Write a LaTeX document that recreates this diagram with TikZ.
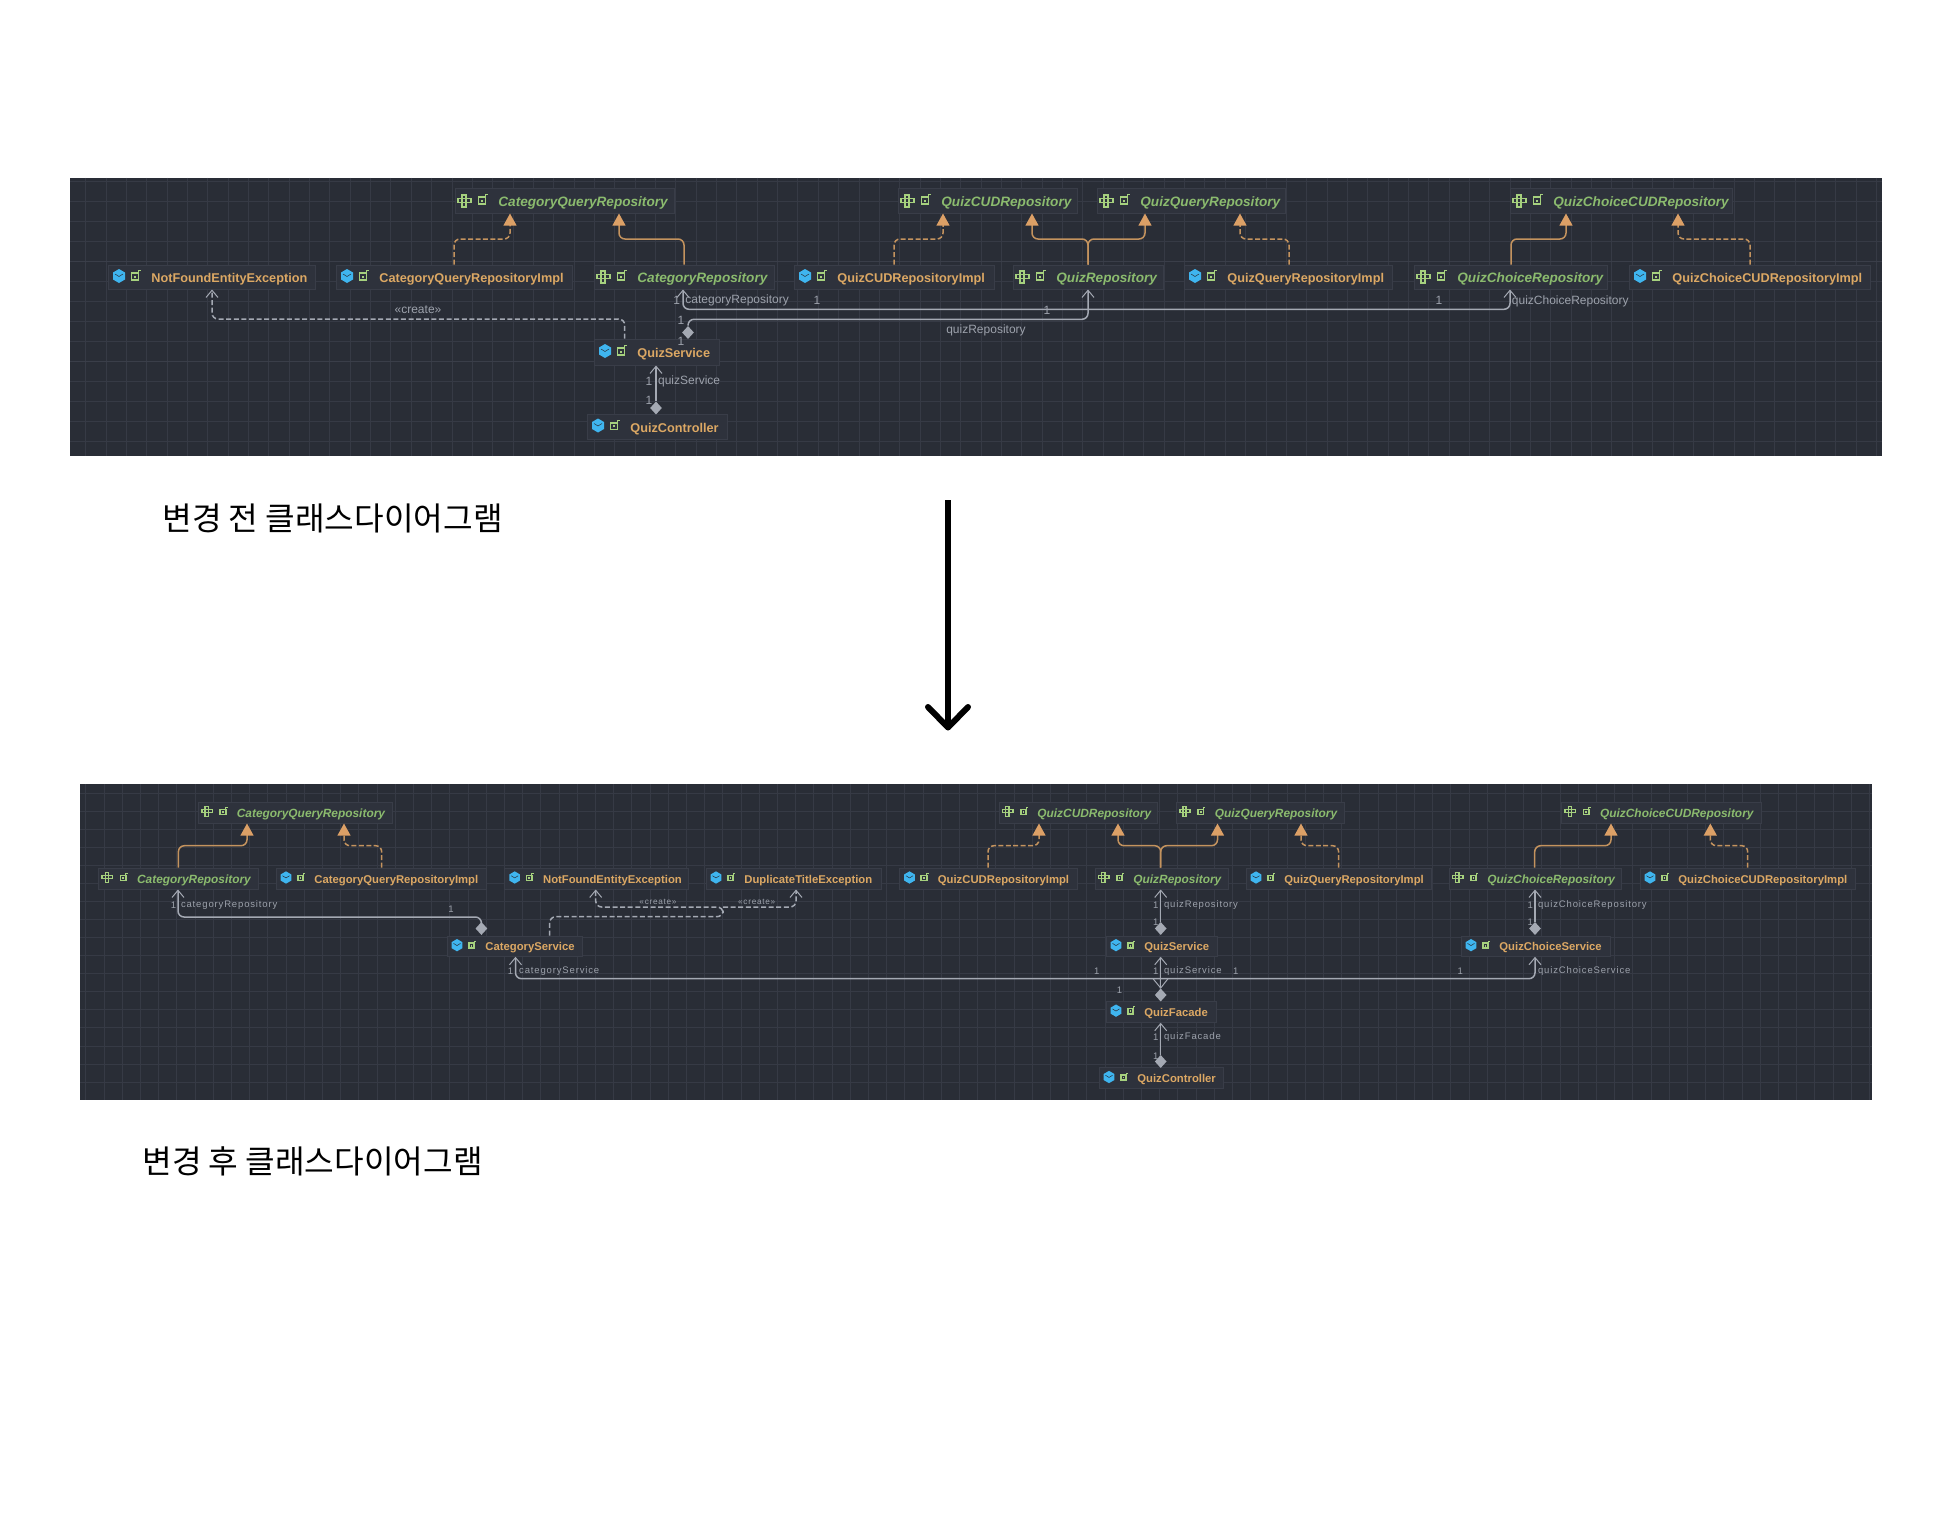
\documentclass[tikz,border=0pt]{standalone}
\usepackage{fontspec}
\usetikzlibrary{arrows.meta,shapes.geometric}
\newfontfamily\uifont{Liberation Sans}
\newfontfamily\uisp[LetterSpace=9]{Liberation Sans}
\newfontfamily\cjkfont{Noto Sans CJK KR}
\definecolor{panel}{HTML}{292D36}
\definecolor{gridc}{HTML}{363A45}
\definecolor{gridm}{HTML}{3A3E49}
\definecolor{boxf}{HTML}{2E323C}
\definecolor{boxl}{HTML}{393D48}
\definecolor{clsc}{HTML}{DCA864}
\definecolor{ifcc}{HTML}{8BBB6E}
\definecolor{tan}{HTML}{C4935E}
\definecolor{tanf}{HTML}{DCA066}
\definecolor{asc}{HTML}{A4A9B3}
\definecolor{lblc}{HTML}{9DA2AC}
\definecolor{iconb}{HTML}{3FB5EF}
\definecolor{icong}{HTML}{A6D17E}
\tikzset{
  x=0.5pt,y=-0.5pt,
  boxsty/.style={fill=boxf,draw=boxl,line width=0.5pt,inner sep=0pt,rectangle},
  ttc/.style={text=clsc,font=\uifont\bfseries\fontsize{6.35}{7}\selectfont,anchor=base west,inner sep=0pt,yshift=-0.5pt},
  tti/.style={text=ifcc,font=\uifont\bfseries\itshape\fontsize{6.8}{7}\selectfont,anchor=base west,inner sep=0pt,yshift=-0.5pt},
  btc/.style={text=clsc,font=\uifont\bfseries\fontsize{5.65}{7}\selectfont,anchor=base west,inner sep=0pt},
  bti/.style={text=ifcc,font=\uifont\bfseries\itshape\fontsize{5.95}{7}\selectfont,anchor=base west,inner sep=0pt},
  tlb/.style={text=lblc,font=\uifont\fontsize{6}{7}\selectfont,inner sep=0pt,yshift=-0.3pt},
  tlbw/.style={tlb,anchor=west},
  blb/.style={text=lblc,font=\uisp\fontsize{4.75}{6}\selectfont,inner sep=0pt,yshift=-0.4pt},
  blbw/.style={blb,anchor=west},
  blc/.style={blb,font=\uisp\fontsize{4.1}{6}\selectfont},
  dia/.style={diamond,fill=asc,inner sep=0pt,minimum width=6pt,minimum height=6.6pt},
  impl/.style={draw=tan,line width=0.75pt,rounded corners=3pt,-{Triangle[length=6pt,width=6.4pt,fill=tanf,color=tanf]}},
  impld/.style={impl,dash pattern=on 2.5pt off 1.2pt},
  assoc/.style={draw=asc,line width=0.75pt,rounded corners=3pt,-{Straight Barb[length=3.6pt,width=6pt,line width=0.5pt]}},
  assocb/.style={draw=asc,line width=0.75pt,rounded corners=3pt,{Straight Barb[length=3.6pt,width=6pt,line width=0.5pt]}-{Straight Barb[length=3.6pt,width=6pt,line width=0.5pt]}},
  crt/.style={assoc,dash pattern=on 2.5pt off 1.3pt},
  korean/.style={font=\cjkfont\fontsize{16.1}{18}\selectfont,text=black,anchor=west,inner sep=0pt},
  bigarrow/.style={draw=black,line width=3pt,line cap=round,line join=round}
}
\newcommand{\ubox}[8]{%
  \node[boxsty,minimum width={(#4-#2)*0.5pt},minimum height={(#5-#3)*0.5pt}] (#1) at ({(#2+#4)/2},{(#3+#5)/2}) {};
  \node[#6] (#1-t) at ({#2+#7},{(#3+#5)/2+4.5}) {#8};}
\newcommand{\icc}[3]{\begin{scope}[shift={({#1},{#2})},scale=#3]
  \fill[iconb] (0,-7)--(6,-3.5)--(6,3.5)--(0,7)--(-6,3.5)--(-6,-3.5)--cycle;
  \draw[panel,line width=0.25pt] (-4,-2)--(0,0.5)--(4,-2);
  \end{scope}}
\newcommand{\ici}[3]{\begin{scope}[shift={({#1},{#2})},scale=#3]
  \draw[icong,line width=0.75pt] (-7,-2.5) rectangle (6,1.5);
  \draw[icong,line width=0.75pt] (-3,-6) rectangle (1,6);
  \end{scope}}
\newcommand{\icl}[3]{\begin{scope}[shift={({#1},{#2})},scale=#3]
  \draw[icong,line width=0.85pt] (-3.6,-2.8) rectangle (3.6,4);
  \fill[icong] (-1.2,-0.5) rectangle (1.2,1.8);
  \draw[icong,line width=0.5pt] (3.6,-2.8)--(3.6,-5.2)--(6,-5.2);
  \end{scope}}
\newcommand{\TC}[6]{\ubox{#1}{#2}{#3}{#4}{#5}{ttc}{43}{#6}\icc{#2+11}{(#3+#5)/2-1}{1}\icl{#2+27}{(#3+#5)/2-1}{1}}
\newcommand{\TI}[6]{\ubox{#1}{#2}{#3}{#4}{#5}{tti}{43}{#6}\ici{#2+10}{(#3+#5)/2}{1}\icl{#2+27}{(#3+#5)/2-1}{1}}
\newcommand{\BC}[6]{\ubox{#1}{#2}{#3}{#4}{#5}{btc}{38}{#6}\icc{#2+10}{(#3+#5)/2-1}{0.88}\icl{#2+24.5}{(#3+#5)/2-1}{0.75}}
\newcommand{\BI}[6]{\ubox{#1}{#2}{#3}{#4}{#5}{bti}{38}{#6}\ici{#2+9}{(#3+#5)/2-1}{0.8}\icl{#2+24.5}{(#3+#5)/2-1}{0.75}}
\begin{document}
\begin{tikzpicture}
\useasboundingbox (0,0) rectangle (1950,1536);
\fill[white] (0,0) rectangle (1950,1536);
% ---------- upper panel
\fill[panel] (70,178) rectangle (1882,456);
\begin{scope}
\clip (70,178) rectangle (1882,456);
\foreach \k in {0,...,89}{\pgfmathsetmacro\xg{85.7+20.35*\k}\draw[gridc,line width=0.5pt] (\xg,178)--(\xg,456);}
\foreach \k in {0,...,13}{\pgfmathsetmacro\yg{181.7+20*\k}\draw[gridc,line width=0.5pt] (70,\yg)--(1882,\yg);}
\foreach \k in {4,9}{\pgfmathsetmacro\yg{181.7+20*\k}\draw[gridm,line width=0.6pt] (70,\yg)--(1882,\yg);}
\end{scope}
\TI{acq}{455}{189}{674}{213}{CategoryQueryRepository}
\TI{acud}{898}{189}{1077}{213}{QuizCUDRepository}
\TI{aqq}{1097}{189}{1285}{213}{QuizQueryRepository}
\TI{accud}{1510}{189}{1732}{213}{QuizChoiceCUDRepository}
\TC{anf}{108}{265}{315}{289}{NotFoundEntityException}
\TC{acqi}{336}{265}{572}{289}{CategoryQueryRepositoryImpl}
\TI{acr}{594}{265}{774}{289}{CategoryRepository}
\TC{acudi}{794}{265}{994}{289}{QuizCUDRepositoryImpl}
\TI{aqr}{1013}{265}{1163}{289}{QuizRepository}
\TC{aqqi}{1184}{265}{1392}{289}{QuizQueryRepositoryImpl}
\TI{acrr}{1414}{265}{1607}{289}{QuizChoiceRepository}
\TC{accudi}{1629}{265}{1870}{289}{QuizChoiceCUDRepositoryImpl}
\TC{asv}{594}{339}{719}{365}{QuizService}
\TC{actl}{587}{414}{727}{439}{QuizController}
\draw[impld] (acqi.north -| 454,0)--(454,239)--(510,239)--(acq.south -| 510,0);
\draw[impl] (acr.north -| 684,0)--(684,239)--(619,239)--(acq.south -| 619,0);
\draw[impld] (acudi.north -| 894,0)--(894,239)--(943,239)--(acud.south -| 943,0);
\draw[impl] (aqr.north -| 1088,0)--(1088,239)--(1032,239)--(acud.south -| 1032,0);
\draw[impl] (aqr.north -| 1088,0)--(1088,239)--(1145,239)--(aqq.south -| 1145,0);
\draw[impld] (aqqi.north -| 1289,0)--(1289,239)--(1240,239)--(aqq.south -| 1240,0);
\draw[impl] (acrr.north -| 1511,0)--(1511,239)--(1566,239)--(accud.south -| 1566,0);
\draw[impld] (accudi.north -| 1750,0)--(1750,239)--(1678,239)--(accud.south -| 1678,0);
\node[dia] (ad1) at (688,332.5) {};
\node[dia] (ad2) at (656,408) {};
\draw[assocb] (acr.south -| 683,0)--(683,309.3)--(1510,309.3)--(acrr.south -| 1510,0);
\draw[assoc] (ad1.north)--(688,319.3)--(1088,319.3)--(aqr.south -| 1088,0);
\draw[assoc] (ad2.north)--(asv.south -| 656,0);
\draw[crt] (asv.north -| 624.7,0)--(624.7,319)--(212,319)--(anf.south -| 212,0);
\node[tlb] (ac) at (418,309) {«create»};
\node[tlb] (a1) at (676.6,300) {1};
\node[tlbw] (a2) at (685,300) {categoryRepository};
\node[tlb] (a3) at (817,300) {1};
\node[tlb] (a4) at (681,320) {1};
\node[tlb] (a5) at (681,340.6) {1};
\node[tlb] (a6) at (1047,310) {1};
\node[tlb] (a7) at (986,330) {quizRepository};
\node[tlb] (a8) at (1439,300) {1};
\node[tlbw] (a9) at (1511.5,300.7) {quizChoiceRepository};
\node[tlb] (a10) at (649,380.7) {1};
\node[tlbw] (a11) at (657.7,381) {quizService};
\node[tlb] (a12) at (649,400) {1};
% ---------- big arrow
\coordinate (btop) at (948,500);
\coordinate (btip) at (948,727.5);
\coordinate (bwl) at (928,707);
\coordinate (bwr) at (968,707);
\draw[bigarrow,line cap=butt] (btop)--(btip);
\draw[bigarrow] (bwl)--(btip)--(bwr);
\node[korean] (k1) at (162,518) {변경 전 클래스다이어그램};
\node[korean] (k2) at (142,1161) {변경 후 클래스다이어그램};
% ---------- lower panel
\fill[panel] (80,784) rectangle (1872,1099.5);
\begin{scope}
\clip (80,784) rectangle (1872,1099.5);
\foreach \k in {0,...,98}{\pgfmathsetmacro\xg{85.8+18.2*\k}\draw[gridc,line width=0.5pt] (\xg,784)--(\xg,1100);}
\foreach \k in {0,...,17}{\pgfmathsetmacro\yg{793.3+18.05*\k}\draw[gridc,line width=0.5pt] (80,\yg)--(1872,\yg);}
\end{scope}
\BI{bcq}{198.5}{802}{392.5}{823}{CategoryQueryRepository}
\BI{bcud}{999}{802}{1157}{823}{QuizCUDRepository}
\BI{bqq}{1176.4}{802}{1344}{823}{QuizQueryRepository}
\BI{bccud}{1561.7}{802}{1761}{823}{QuizChoiceCUDRepository}
\BI{bcr}{98.7}{868}{258.6}{889}{CategoryRepository}
\BC{bcqi}{276}{868}{486}{889}{CategoryQueryRepositoryImpl}
\BC{bnf}{504.7}{868}{688.4}{889}{NotFoundEntityException}
\BC{bdt}{706}{868}{881.4}{889}{DuplicateTitleException}
\BC{bcudi}{899.5}{868}{1077}{889}{QuizCUDRepositoryImpl}
\BI{bqr}{1095}{868}{1228}{889}{QuizRepository}
\BC{bqqi}{1246}{868}{1431}{889}{QuizQueryRepositoryImpl}
\BI{bcrr}{1449}{868}{1621.7}{889}{QuizChoiceRepository}
\BC{bccudi}{1640}{868}{1855.7}{889}{QuizChoiceCUDRepositoryImpl}
\BC{bcs}{447}{936}{582.7}{956.3}{CategoryService}
\BC{bqs}{1106}{936}{1217}{956.3}{QuizService}
\BC{bqcs}{1461}{936}{1610.3}{956.3}{QuizChoiceService}
\BC{bqf}{1106}{1001}{1216}{1022.3}{QuizFacade}
\BC{bctl}{1099}{1067.7}{1223.6}{1088.3}{QuizController}
\draw[impl] (bcr.north -| 178.4,0)--(178.4,845.7)--(247,845.7)--(bcq.south -| 247,0);
\draw[impld] (bcqi.north -| 381.7,0)--(381.7,845.7)--(344,845.7)--(bcq.south -| 344,0);
\draw[impld] (bcudi.north -| 988,0)--(988,845.7)--(1039,845.7)--(bcud.south -| 1039,0);
\draw[impl] (bqr.north -| 1160.7,0)--(1160.7,845.7)--(1118,845.7)--(bcud.south -| 1118,0);
\draw[impl] (bqr.north -| 1160.7,0)--(1160.7,845.7)--(1217.5,845.7)--(bqq.south -| 1217.5,0);
\draw[impld] (bqqi.north -| 1338.6,0)--(1338.6,845.7)--(1301,845.7)--(bqq.south -| 1301,0);
\draw[impl] (bcrr.north -| 1534.7,0)--(1534.7,845.7)--(1611,845.7)--(bccud.south -| 1611,0);
\draw[impld] (bccudi.north -| 1747.7,0)--(1747.7,845.7)--(1710.3,845.7)--(bccud.south -| 1710.3,0);
\node[dia] (bd1) at (481.4,928.5) {};
\node[dia] (bd2) at (1160.7,928.5) {};
\node[dia] (bd3) at (1535,928.5) {};
\node[dia] (bd4) at (1160.7,995) {};
\node[dia] (bd5) at (1160.7,1061.5) {};
\draw[assoc] (bd1.north)--(481.4,917)--(178,917)--(bcr.south -| 178,0);
\draw[assoc] (bd2.north)--(bqr.south -| 1160.7,0);
\draw[assoc] (bd3.north)--(bcrr.south -| 1535,0);
\draw[assoc] (bd4.north)--(bqs.south -| 1160.7,0);
\draw[assoc] (bd5.north)--(bqf.south -| 1160.7,0);
\draw[assocb] (bcs.south -| 515.5,0)--(515.5,978.7)--(1535,978.7)--(bqcs.south -| 1535,0);
\draw[draw=asc,line width=0.5pt] (1153,978.7)--(bd4.north)--(1168,978.7);
\coordinate (bjn) at (723,907);
\draw[crt] (bcs.north -| 549.7,0)--(549.7,916.7)--(723,916.7)--(bjn)--(595.7,907)--(bnf.south -| 595.7,0);
\draw[crt] (bjn)--(796,907)--(bdt.south -| 796,0);
\node[blc] (bc1) at (658,900.7) {«create»};
\node[blc] (bc2) at (756.7,900.7) {«create»};
\node[blb] (b1) at (173.5,904.3) {1};
\node[blbw] (b2) at (180.6,904.3) {categoryRepository};
\node[blb] (b3) at (451,908) {1};
\node[blb] (b4) at (510.6,970.7) {1};
\node[blbw] (b5) at (518.8,970.7) {categoryService};
\node[blb] (b6) at (1155.7,904) {1};
\node[blbw] (b7) at (1163.6,904) {quizRepository};
\node[blb] (b8) at (1155.7,921.7) {1};
\node[blb] (b9) at (1155.7,970.3) {1};
\node[blbw] (b10) at (1163.6,970.3) {quizService};
\node[blb] (b11) at (1235.7,970.3) {1};
\node[blb] (b12) at (1096.8,970.3) {1};
\node[blb] (b13) at (1119.6,989) {1};
\node[blb] (b14) at (1155.7,1036.7) {1};
\node[blbw] (b15) at (1163.6,1036.7) {quizFacade};
\node[blb] (b16) at (1155.7,1055) {1};
\node[blb] (b17) at (1530.3,904) {1};
\node[blbw] (b18) at (1537.7,904) {quizChoiceRepository};
\node[blb] (b19) at (1530.3,921.7) {1};
\node[blbw] (b20) at (1537.7,970.7) {quizChoiceService};
\node[blb] (b21) at (1460.3,970.7) {1};
\end{tikzpicture}
\end{document}
